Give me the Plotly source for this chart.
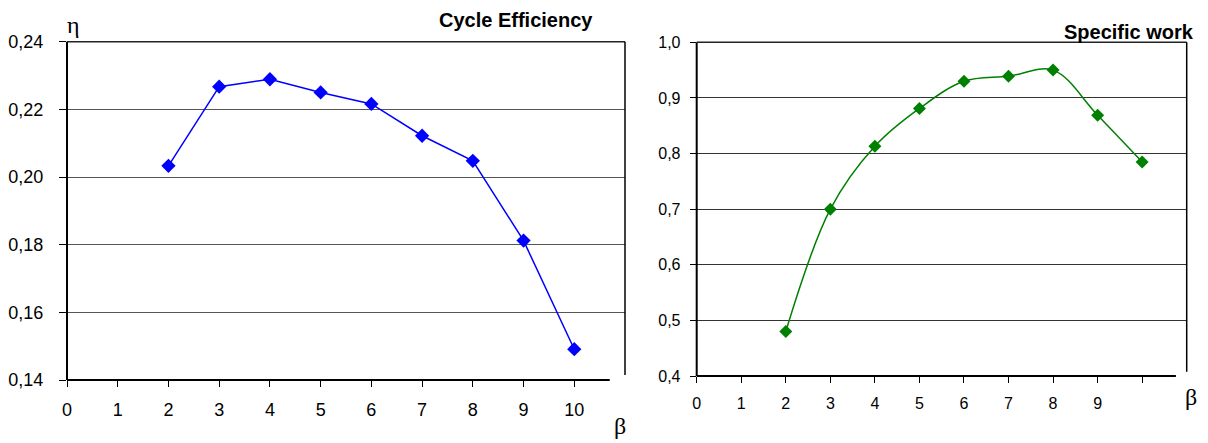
import plotly.graph_objects as go

# ---- data ----
beta = [2, 3, 4, 5, 6, 7, 8, 9, 10]
efficiency = [0.2033, 0.2267, 0.2289, 0.2250, 0.2216, 0.2122, 0.2048, 0.1812, 0.1491]
specific_work = [0.480, 0.700, 0.813, 0.881, 0.930, 0.939, 0.950, 0.869, 0.785]

x_ticks = [0, 1, 2, 3, 4, 5, 6, 7, 8, 9, 10]
x_labels_left = ["0", "1", "2", "3", "4", "5", "6", "7", "8", "9", "10"]
x_labels_right = ["0", "1", "2", "3", "4", "5", "6", "7", "8", "9", ""]
y_ticks_left = [0.14, 0.16, 0.18, 0.20, 0.22, 0.24]
y_labels_left = ["0,14", "0,16", "0,18", "0,20", "0,22", "0,24"]
y_ticks_right = [0.4, 0.5, 0.6, 0.7, 0.8, 0.9, 1.0]
y_labels_right = ["0,4", "0,5", "0,6", "0,7", "0,8", "0,9", "1,0"]

W, H = 1208, 443
OFF = 8  # page body margin offset
FONT = "Liberation Sans, Arial, sans-serif"
SERIF = "Liberation Serif, Times New Roman, serif"


def px_x(p):
    return (p - OFF) / W


def px_y(p):
    return 1 - (p - OFF) / H


fig = go.Figure()

fig.add_trace(go.Scatter(
    x=beta, y=efficiency, mode="lines+markers",
    line=dict(color="#0000FF", width=1.5),
    marker=dict(symbol="diamond", size=11, color="#0000FF"),
    xaxis="x", yaxis="y", showlegend=False,
))
fig.add_trace(go.Scatter(
    x=beta, y=specific_work, mode="lines+markers",
    line=dict(color="#008000", width=1.5, shape="spline", smoothing=1.0),
    marker=dict(symbol="diamond", size=10, color="#008000"),
    xaxis="x2", yaxis="y2", showlegend=False,
))


def axis_common(size):
    return dict(
        showline=False, zeroline=False, ticks="outside", tickcolor="black",
        automargin=False,
        tickfont=dict(family=FONT, size=size, color="black"),
    )


fig.update_layout(
    width=W, height=H,
    margin=dict(l=0, r=0, t=0, b=0, pad=0, autoexpand=False),
    paper_bgcolor="white", plot_bgcolor="white",
    xaxis=dict(domain=[px_x(67), px_x(625)], range=[0, 11], anchor="y",
               tickvals=x_ticks, ticktext=x_labels_left, showgrid=False,
               ticklen=6, tickwidth=1, ticklabelstandoff=7, **axis_common(18)),
    yaxis=dict(domain=[px_y(380), px_y(41.7)], range=[0.14, 0.24], anchor="x",
               tickvals=y_ticks_left, ticktext=y_labels_left, showgrid=True,
               gridcolor="#555555", gridwidth=1, ticklen=7, tickwidth=1,
               ticklabelstandoff=12, **axis_common(18)),
    xaxis2=dict(domain=[px_x(696.7), px_x(1186.7)], range=[0, 11], anchor="y2",
                tickvals=x_ticks, ticktext=x_labels_right, showgrid=False,
                ticklen=6, tickwidth=1, ticklabelstandoff=7, **axis_common(16)),
    yaxis2=dict(domain=[px_y(376), px_y(42.3)], range=[0.4, 1.0], anchor="x2",
                tickvals=y_ticks_right, ticktext=y_labels_right, showgrid=True,
                gridcolor="#333333", gridwidth=1, ticklen=6, tickwidth=1,
                ticklabelstandoff=6, **axis_common(16)),
)

# frames
for xr, yr, xend, rb in [("x domain", "y domain", 0.9727, 0.0148),
                         ("x2 domain", "y2 domain", 0.978, 0.013)]:
    fig.add_shape(type="line", xref=xr, yref=yr, x0=0, x1=0, y0=0, y1=1,
                  line=dict(color="black", width=2))
    fig.add_shape(type="line", xref=xr, yref=yr, x0=0, x1=xend, y0=0, y1=0,
                  line=dict(color="black", width=2))
    fig.add_shape(type="line", xref=xr, yref=yr, x0=0, x1=1, y0=1, y1=1,
                  line=dict(color="#222222", width=1.5))
    fig.add_shape(type="line", xref=xr, yref=yr, x0=1, x1=1, y0=rb, y1=1,
                  line=dict(color="black", width=1.5))

annotations = [
    dict(text="<b>Cycle Efficiency</b>", x=px_x(516), y=px_y(20),
         font=dict(family=FONT, size=20, color="black")),
    dict(text="<b>Specific work</b>", x=px_x(1129), y=px_y(32),
         font=dict(family=FONT, size=20, color="black")),
    dict(text="η", x=px_x(73), y=px_y(25),
         font=dict(family=SERIF, size=24, color="black")),
    dict(text="β", x=px_x(620), y=px_y(426),
         font=dict(family=SERIF, size=24, color="black")),
    dict(text="β", x=px_x(1191), y=px_y(397),
         font=dict(family=SERIF, size=24, color="black")),
]
for a in annotations:
    fig.add_annotation(xref="paper", yref="paper", showarrow=False,
                       xanchor="center", yanchor="middle", **a)

fig.write_html("out.html")
